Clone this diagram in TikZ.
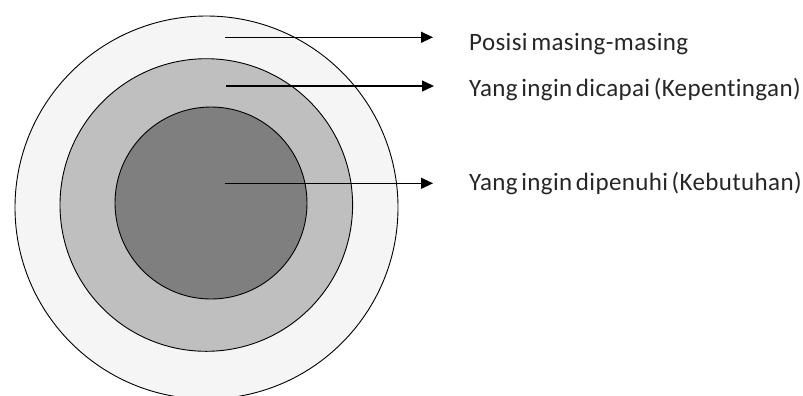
\documentclass[tikz,border=0pt]{standalone}
\usepackage{fontspec}
\setmainfont{Carlito}[Ligatures=NoCommon, LetterSpace=1.5, WordSpace=0.6]
\usetikzlibrary{arrows.meta}
\definecolor{ringout}{HTML}{F5F5F5}
\definecolor{ringmid}{HTML}{BFBFBF}
\definecolor{ringin}{HTML}{7F7F7F}
\tikzset{
  ring/.style={draw=black, line width=0.9bp},
  pointer/.style={draw=black, line width=1.3bp, -{Triangle[length=12bp,width=11bp]}},
  lbl/.style={anchor=base west, inner sep=0pt, font=\fontsize{25bp}{29bp}\selectfont, text=black!85}
}
\begin{document}
\begin{tikzpicture}[x=1bp,y=-1bp]
\useasboundingbox (0,0) rectangle (803,395);
\path[ring, fill=ringout] (206.5,207.5) circle[radius=191.5];
\path[ring, fill=ringmid] (206.3,205) circle[radius=146.3];
\path[ring, fill=ringin] (211,203) circle[radius=96];
\coordinate (s1) at (225,37.3);
\coordinate (s2) at (226,86);
\coordinate (s3) at (225,183.3);
\coordinate (e1) at (433,37.3);
\coordinate (e2) at (434,86);
\coordinate (e3) at (433,183.3);
\draw[pointer] (s1) -- (e1);
\draw[pointer] (s2) -- (e2);
\draw[pointer] (s3) -- (e3);
\node[lbl] (t1) at (469,50) {Posisi masing-masing};
\node[lbl] (t2) at (469,96.7) {Yang ingin dicapai (Kepentingan)};
\node[lbl] (t3) at (469,190) {Yang ingin dipenuhi (Kebutuhan)};
\end{tikzpicture}
\end{document}
